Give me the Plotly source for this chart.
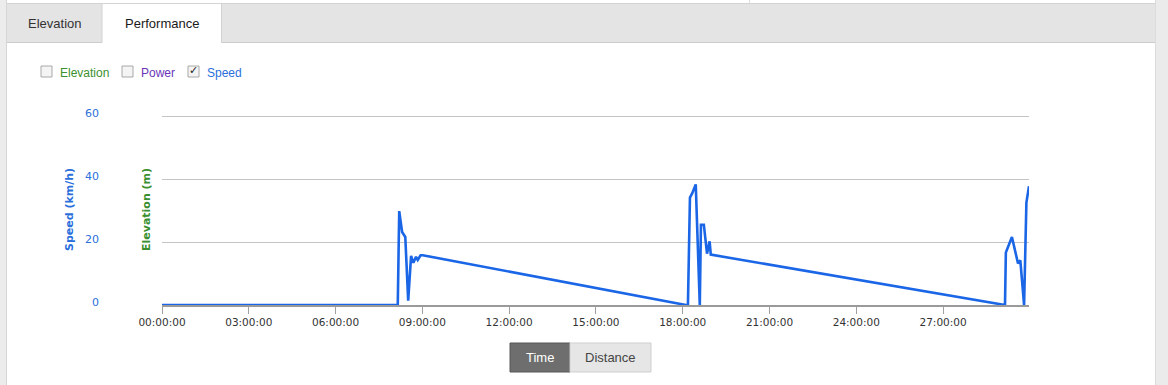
import plotly.graph_objects as go

W, H = 1168, 385

# ---- data (hours since start, speed km/h) ----
time_h = [0, 8.15, 8.20, 8.30, 8.41, 8.51, 8.61, 8.69, 8.78, 8.84, 8.94, 9.01,
          18.11, 18.18, 18.25, 18.33, 18.45, 18.59, 18.63, 18.73, 18.84, 18.93, 18.97,
          29.14, 29.17, 29.38, 29.59, 29.67, 29.80, 29.88, 29.97]
speed_kmh = [0, 0, 29.8, 23.2, 21.6, 1.4, 15.6, 13.4, 15.3, 14.3, 15.8, 15.8,
             0, 0, 34.1, 35.5, 38.3, 0, 25.5, 25.5, 16.3, 20.2, 16.0,
             0, 16.7, 21.6, 13.2, 14.2, 0, 32.5, 37.7]
x_tick_vals = [0, 3, 6, 9, 12, 15, 18, 21, 24, 27]
x_tick_text = ["00:00:00", "03:00:00", "06:00:00", "09:00:00", "12:00:00",
               "15:00:00", "18:00:00", "21:00:00", "24:00:00", "27:00:00"]
y_tick_vals = [0, 20, 40, 60]
legend_items = ["Elevation", "Power", "Speed"]
legend_checked = [False, False, True]
tab_labels = ["Elevation", "Performance"]
button_labels = ["Time", "Distance"]


def xp(px):
    return px / W


def yp(py):
    return 1 - py / H


BLUE = "#1a66e6"
LABEL_BLUE = "#2a6fdb"
GREEN = "#3a8f2e"
PURPLE = "#6a35b8"

fig = go.Figure()
fig.add_trace(go.Scatter(x=time_h, y=speed_kmh, mode="lines",
                         line=dict(color=BLUE, width=2.6), hoverinfo="skip",
                         showlegend=False, cliponaxis=False))

shapes = []
ann = []


def rect(x0, y0, x1, y1, fill, line_color=None, lw=0, layer="below"):
    shapes.append(dict(type="rect", xref="paper", yref="paper",
                       x0=xp(x0), x1=xp(x1), y0=yp(y1), y1=yp(y0),
                       fillcolor=fill, line=dict(color=line_color or fill, width=lw),
                       layer=layer))


def hline(x0, x1, y, color, w=1):
    shapes.append(dict(type="line", xref="paper", yref="paper",
                       x0=xp(x0), x1=xp(x1), y0=yp(y), y1=yp(y),
                       line=dict(color=color, width=w), layer="below"))


def vline(x, y0, y1, color, w=1):
    shapes.append(dict(type="line", xref="paper", yref="paper",
                       x0=xp(x), x1=xp(x), y0=yp(y0), y1=yp(y1),
                       line=dict(color=color, width=w), layer="below"))


def text(x, y, s, size, color, family="Liberation Sans, Arial, sans-serif",
         xanchor="center", angle=0, bold=False):
    if bold:
        s = "<b>" + s + "</b>"
    ann.append(dict(x=xp(x), y=yp(y), xref="paper", yref="paper", text=s,
                    showarrow=False, xanchor=xanchor, yanchor="middle",
                    textangle=angle, font=dict(size=size, color=color, family=family)))


# page frame
rect(0, 0, 6, H, "#ececec")
vline(6.5, 0, H, "#d6d6d6")
rect(1155, 0, W, H, "#ebebeb")
vline(1155.5, 0, H, "#dcdcdc")
hline(7, 1155, 3.5, "#d4d4d4")
vline(749.5, 0, 3, "#dddddd")

# tab bar
rect(7, 4, 1155, 42, "#e4e4e4")
hline(7, 1155, 42.5, "#cdcdcd")
rect(102, 4, 221, 43.5, "#ffffff")
vline(102, 4, 43, "#d2d2d2")
vline(221.5, 4, 43, "#d2d2d2")
text(54, 23, tab_labels[0], 13, "#333333")
text(161.5, 23, tab_labels[1], 13, "#1a1a1a")

# legend checkboxes
legend_colors = [GREEN, PURPLE, LABEL_BLUE]
legend_box_x = [41, 122, 188]
for name, checked, col, bx in zip(legend_items, legend_checked, legend_colors, legend_box_x):
    rect(bx, 66, bx + 11, 77, "#f4f4f4", "#a8a8a8", 1, layer="above")
    if checked:
        text(bx + 5.5, 71, "✓", 11, "#222222", family="DejaVu Sans")
    text(bx + 17, 73, name, 12, col, xanchor="left")

# toggle buttons
rect(510, 343, 570, 372, "#6e6e6e", "#575757", 1)
rect(570, 343, 651, 372, "#e6e6e6", "#cfcfcf", 1)
text(540, 357.5, button_labels[0], 13, "#ffffff")
text(610.5, 357.5, button_labels[1], 13, "#444444")

# axis titles
text(70, 210, "Speed (km/h)", 11, LABEL_BLUE, family="DejaVu Sans", angle=-90, bold=True)
text(147, 210, "Elevation (m)", 11, GREEN, family="DejaVu Sans", angle=-90, bold=True)

# y axis: 0 at px 305, 60 at px 116 -> 3.15 px per unit; top of range 61 at px 112.85
fig.update_layout(
    width=W, height=H,
    margin=dict(l=0, r=0, t=0, b=0, autoexpand=False),
    paper_bgcolor="#ffffff", plot_bgcolor="#ffffff",
    shapes=shapes, annotations=ann,
    showlegend=False,
    xaxis=dict(domain=[xp(162), xp(1029)], range=[0, 29.97],
               tickvals=x_tick_vals, ticktext=x_tick_text,
               ticks="outside", ticklen=7, tickcolor="#a0a0a0", tickwidth=1,
               showline=True, linecolor="#9a9a9a", linewidth=1.5,
               showgrid=False, zeroline=False, fixedrange=True, automargin=False,
               tickfont=dict(family="DejaVu Sans, Verdana, sans-serif", size=10.5, color="#333333")),
    yaxis=dict(domain=[yp(305), yp(112.85)], range=[0, 61],
               tickvals=y_tick_vals, ticks="", showline=False,
               showgrid=True, gridcolor="#c4c4c4", gridwidth=1,
               zeroline=False, fixedrange=True, automargin=False,
               ticklabelstandoff=62, ticklabelshift=-3,
               tickfont=dict(family="DejaVu Sans, Verdana, sans-serif", size=11, color=LABEL_BLUE)),
)

fig.write_html("out.html")
